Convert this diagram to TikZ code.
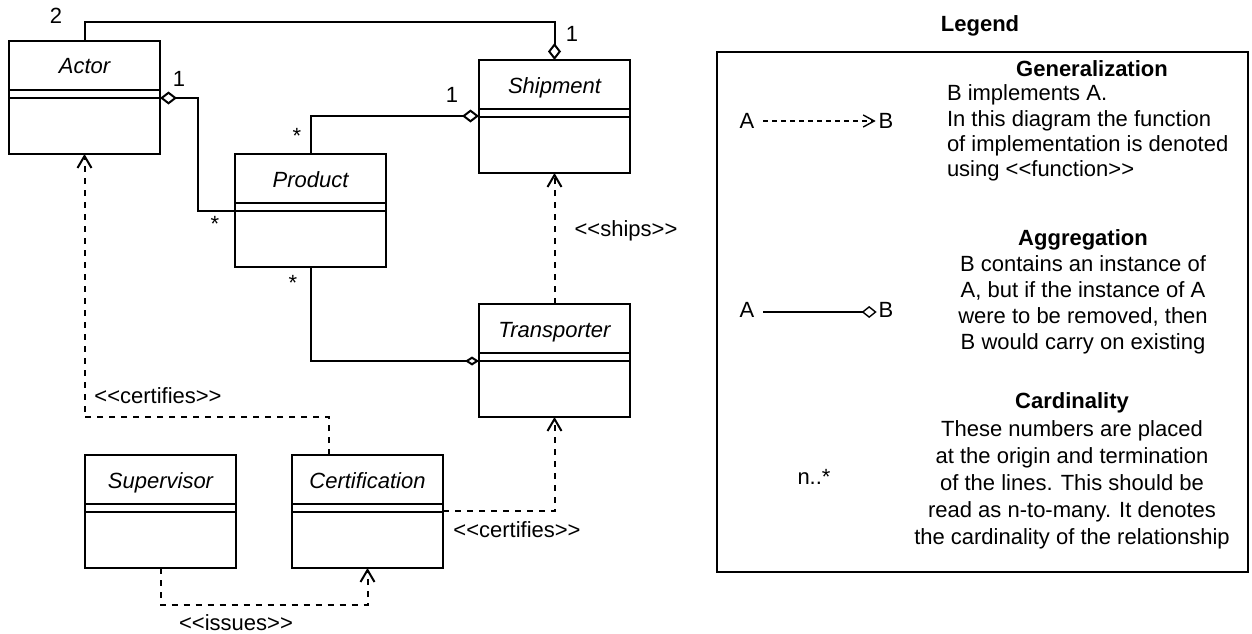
\documentclass[tikz,border=0pt]{standalone}
\usepackage{fontspec}
\setmainfont{Liberation Sans}
\usetikzlibrary{arrows.meta,calc}
\newcommand{\dfont}{\fontsize{22}{26}\selectfont}
\tikzset{
  classbox/.style={draw, line width=2pt, minimum width=151pt, minimum height=113pt, inner sep=0pt, outer sep=0pt},
  divline/.style={line width=2pt},
  txt/.style={inner sep=0pt, outer sep=0pt, font=\dfont},
  ctitle/.style={txt, anchor=base, font=\dfont\itshape},
  lbl/.style={txt, anchor=base},
  lblw/.style={txt, anchor=base west},
  boldlbl/.style={txt, anchor=base, font=\dfont\bfseries},
  assoc/.style={line width=2pt},
  aggr/.style={assoc, -{Diamond[open,length=17pt,width=13pt]}},
  aggrsmall/.style={assoc, -{Diamond[open,length=14pt,width=9pt]}},
  dep/.style={line width=2pt, dash pattern=on 6pt off 6pt, -{Straight Barb[length=12pt,width=14pt]}},
  legdep/.style={line width=1.4pt, dash pattern=on 5pt off 4pt, -{Straight Barb[length=11pt,width=12pt]}},
  legagg/.style={line width=1.4pt, -{Diamond[open,length=15pt,width=12pt]}},
}
\newcommand{\umlclass}[4]{%
  \node[classbox] (#1) at (#2+75.5, #3+56.5) {};
  \node[ctitle] (#1-t) at ($(#1.north)+(0,33)$) {#4};
  \draw[divline] ($(#1.north west)+(0,49)$) -- ($(#1.north east)+(0,49)$);
  \draw[divline] ($(#1.north west)+(0,57)$) -- ($(#1.north east)+(0,57)$);
}
\begin{document}
\begin{tikzpicture}[x=1pt,y=-1pt]
\useasboundingbox (0,0) rectangle (1252,634);
\fill[white] (0,0) rectangle (1252,634);

% classes
\umlclass{actor}{9}{41}{Actor}
\umlclass{product}{235}{154}{Product}
\umlclass{shipment}{479}{60}{Shipment}
\umlclass{transporter}{479}{304}{Transporter}
\umlclass{supervisor}{85}{455}{Supervisor}
\umlclass{certification}{292}{455}{Certification}

% helper points
\coordinate (topbend) at (554.5,22);
\coordinate (ap) at ($(actor.north east)+(0,57)$);
\coordinate (pa) at ($(product.north west)+(0,57)$);
\coordinate (sp) at ($(shipment.north west)+(0,56)$);
\coordinate (tp) at ($(transporter.north west)+(0,57)$);
\coordinate (ca) at ($(certification.north west)+(37,0)$);
\coordinate (ct) at ($(certification.north east)+(0,56)$);

% aggregations
\draw[aggr] (actor.north) |- (topbend) -- (shipment.north);
\draw[aggr] (pa) -| ($(ap)+(38,0)$) -- (ap);
\draw[aggr] (product.north) |- (sp);
\draw[aggrsmall] (product.south) |- (tp);

% dependencies
\draw[dep] (transporter.north) -- (shipment.south);
\draw[dep] (ca) -- ++(0,-38) -| (actor.south);
\draw[dep] (ct) -| (transporter.south);
\draw[dep] (supervisor.south) -- ++(0,37) -| (certification.south);

% cardinalities
\node[lbl] (c2) at (56,24) {2};
\node[lbl] (c1a) at (572,42) {1};
\node[lbl] (c1b) at (179,86) {1};
\node[lbl] (c1c) at (452,102) {1};
\node[lbl] (s1) at (297,143) {*};
\node[lbl] (s2) at (215,231) {*};
\node[lbl] (s3) at (293,290) {*};

% stereotypes
\node[lbl] (ships) at (626,236) {<{}<ships>{}>};
\node[lbl] (cert1) at (158,403) {<{}<certifies>{}>};
\node[lbl] (cert2) at (517,537) {<{}<certifies>{}>};
\node[lbl] (issues) at (236,630) {<{}<issues>{}>};

% legend
\node[boldlbl] (legendtitle) at (980,32) {Legend};
\node[draw, line width=1.8pt, minimum width=531pt, minimum height=520pt, inner sep=0pt, outer sep=0pt] (legend) at (982.5,312) {};

\node[lbl] (ga) at (747,128) {A};
\node[lbl] (gb) at (886,128) {B};
\draw[legdep] ($(ga.base east)+(9,-7)$) -- ($(gb.base west)+(-3,-7)$);

\node[lbl] (aa) at (747,317) {A};
\node[lbl] (ab) at (886,317) {B};
\draw[legagg] ($(aa.base east)+(9,-5)$) -- ($(ab.base west)+(-2,-5)$);

\node[lbl] (nstar) at (814,484) {n..*};

\node[boldlbl] (gen) at (1092,77) {Generalization};
\node[lblw] (gen1) at (947,100) {B implements A.};
\node[lblw] (gen2) at (947,126) {In this diagram the function};
\node[lblw] (gen3) at (947,151) {of implementation is denoted};
\node[lblw] (gen4) at (947,176) {using <{}<function>{}>};

\node[boldlbl] (agg) at (1083,245) {Aggregation};
\node[lbl] (agg1) at (1083,271) {B contains an instance of};
\node[lbl] (agg2) at (1083,297) {A, but if the instance of A};
\node[lbl] (agg3) at (1083,323) {were to be removed, then};
\node[lbl] (agg4) at (1083,349) {B would carry on existing};

\node[boldlbl] (card) at (1072,408) {Cardinality};
\node[lbl] (card1) at (1072,436) {These numbers are placed};
\node[lbl] (card2) at (1072,463) {at the origin and termination};
\node[lbl] (card3) at (1072,490) {of the lines. This should be};
\node[lbl] (card4) at (1072,517) {read as n-to-many. It denotes};
\node[lbl] (card5) at (1072,544) {the cardinality of the relationship};
\end{tikzpicture}
\end{document}
